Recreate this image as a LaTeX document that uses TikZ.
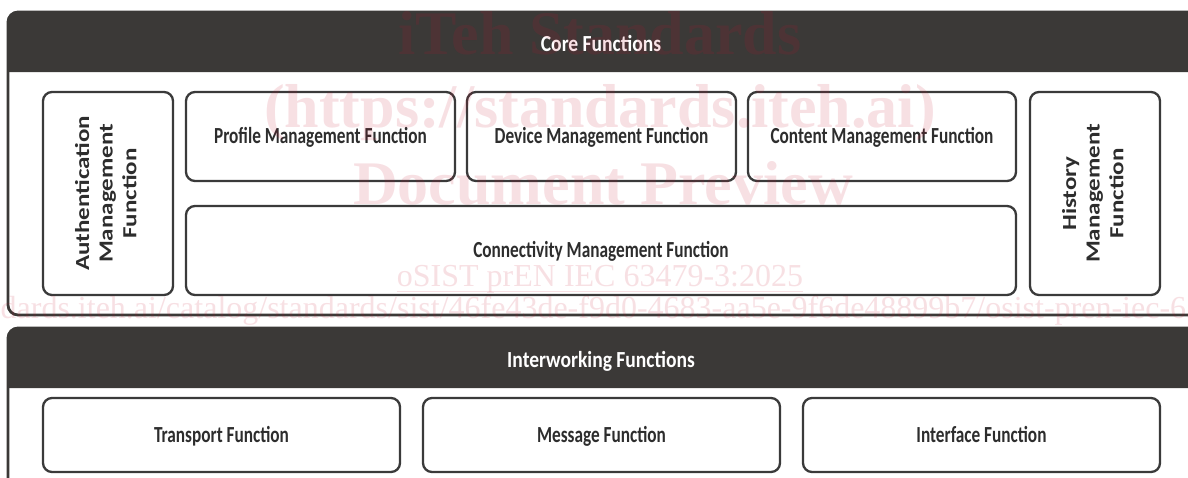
\documentclass[tikz,border=0pt]{standalone}
\usepackage{fontspec}
\setmainfont{Carlito}
\newfontfamily\wmfont{Liberation Serif}
\usepackage{graphicx}
\definecolor{barc}{RGB}{59,57,55}
\definecolor{linec}{RGB}{58,58,58}
\definecolor{txtc}{RGB}{45,45,45}
\definecolor{wmc}{RGB}{200,16,46}
\newcommand\hsq[1]{\scalebox{0.75}[1]{#1}}
\newcommand\hhd[1]{\scalebox{0.85}[1]{#1}}
\newcommand\vsq[1]{\rotatebox{90}{\scalebox{1}[0.8]{\fontsize{25}{29.5}\selectfont\begin{tabular}{@{}c@{}}#1\end{tabular}}}}
\tikzset{
  fbox/.style={draw=linec, line width=2.3pt, rounded corners=9pt, fill=white,
    inner sep=0pt, text=txtc, font=\bfseries\fontsize{23}{27}\selectfont},
  hlab/.style={fbox, text height=14.5pt, text depth=0pt},
  hdr/.style={text=white, inner sep=0pt, text height=14.5pt, text depth=0pt,
    font=\bfseries\fontsize{23}{27}\selectfont},
  wm/.style={text=wmc, text opacity=0.13, inner sep=0pt},
  frame/.style={draw=barc, line width=2.8pt, rounded corners=10pt}
}
\begin{document}
\begin{tikzpicture}[x=1pt,y=-1pt]
\useasboundingbox (0,0) rectangle (1188,477);
\clip (0,0) rectangle (1188,477);
% Core functions frame
\fill[white, rounded corners=10pt] (8,12) rectangle (1210,315);
\fill[barc] (8,72) [rounded corners=10pt] -- (8,12) -- (1210,12) [sharp corners] -- (1210,72) -- cycle;
\draw[frame] (8,12) rectangle (1210,315);
\node[hdr] (coreT) at (601,44.5) {\hhd{Core Functions}};
% Interworking frame
\fill[white, rounded corners=10pt] (8,328) rectangle (1210,500);
\fill[barc] (8,388) [rounded corners=10pt] -- (8,328) -- (1210,328) [sharp corners] -- (1210,388) -- cycle;
\draw[frame] (8,328) rectangle (1210,500);
\node[hdr] (iwT) at (601,360.5) {\hhd{Interworking Functions}};
% core boxes
\node[fbox, minimum width=130pt, minimum height=203pt] (auth) at (108,193.5)
  {\vsq{Authentication\\Management\\Function}};
\node[fbox, minimum width=130pt, minimum height=203pt] (hist) at (1095,193.5)
  {\vsq{History\\Management\\Function}};
\node[hlab, minimum width=269pt, minimum height=89pt] (prof) at (320.5,136.5) {\hsq{Profile Management Function}};
\node[hlab, minimum width=269pt, minimum height=89pt] (dev) at (601.5,136.5) {\hsq{Device Management Function}};
\node[hlab, minimum width=268pt, minimum height=89pt] (cont) at (882,136.5) {\hsq{Content Management Function}};
\node[hlab, minimum width=830pt, minimum height=89pt] (conn) at (601,250.5) {\hsq{Connectivity Management Function}};
% interworking boxes
\node[hlab, minimum width=357pt, minimum height=74pt] (trans) at (221.5,435) {\hsq{Transport Function}};
\node[hlab, minimum width=357pt, minimum height=74pt] (msg) at (601.5,435) {\hsq{Message Function}};
\node[hlab, minimum width=357pt, minimum height=74pt] (intf) at (981.5,435) {\hsq{Interface Function}};
% watermark
\node[wm, anchor=base, font=\wmfont\bfseries\fontsize{62}{62}\selectfont] (w1) at (600,54) {iTeh Standards};
\node[wm, anchor=base, font=\wmfont\bfseries\fontsize{62}{62}\selectfont] (w2) at (600,127) {(https://standards.iteh.ai)};
\node[wm, anchor=base, font=\wmfont\bfseries\fontsize{62}{62}\selectfont] (w3) at (603,204) {Document Preview};
\node[wm, anchor=base, font=\wmfont\fontsize{32}{32}\selectfont] (w4) at (600,286) {oSIST prEN IEC 63479-3:2025};
\draw[wmc, draw opacity=0.13, line width=1.5pt] ([yshift=-5.5pt]w4.base west) -- ([yshift=-5.5pt]w4.base east);
\node[wm, anchor=base west, font=\wmfont\fontsize{32}{32}\selectfont] (w5) at (-140,318) {https://standards.iteh.ai/catalog/standards/sist/46fe43de-f9d0-4683-aa5e-9f6de48899b7/osist-pren-iec-63479-3-2025};
\end{tikzpicture}
\end{document}
